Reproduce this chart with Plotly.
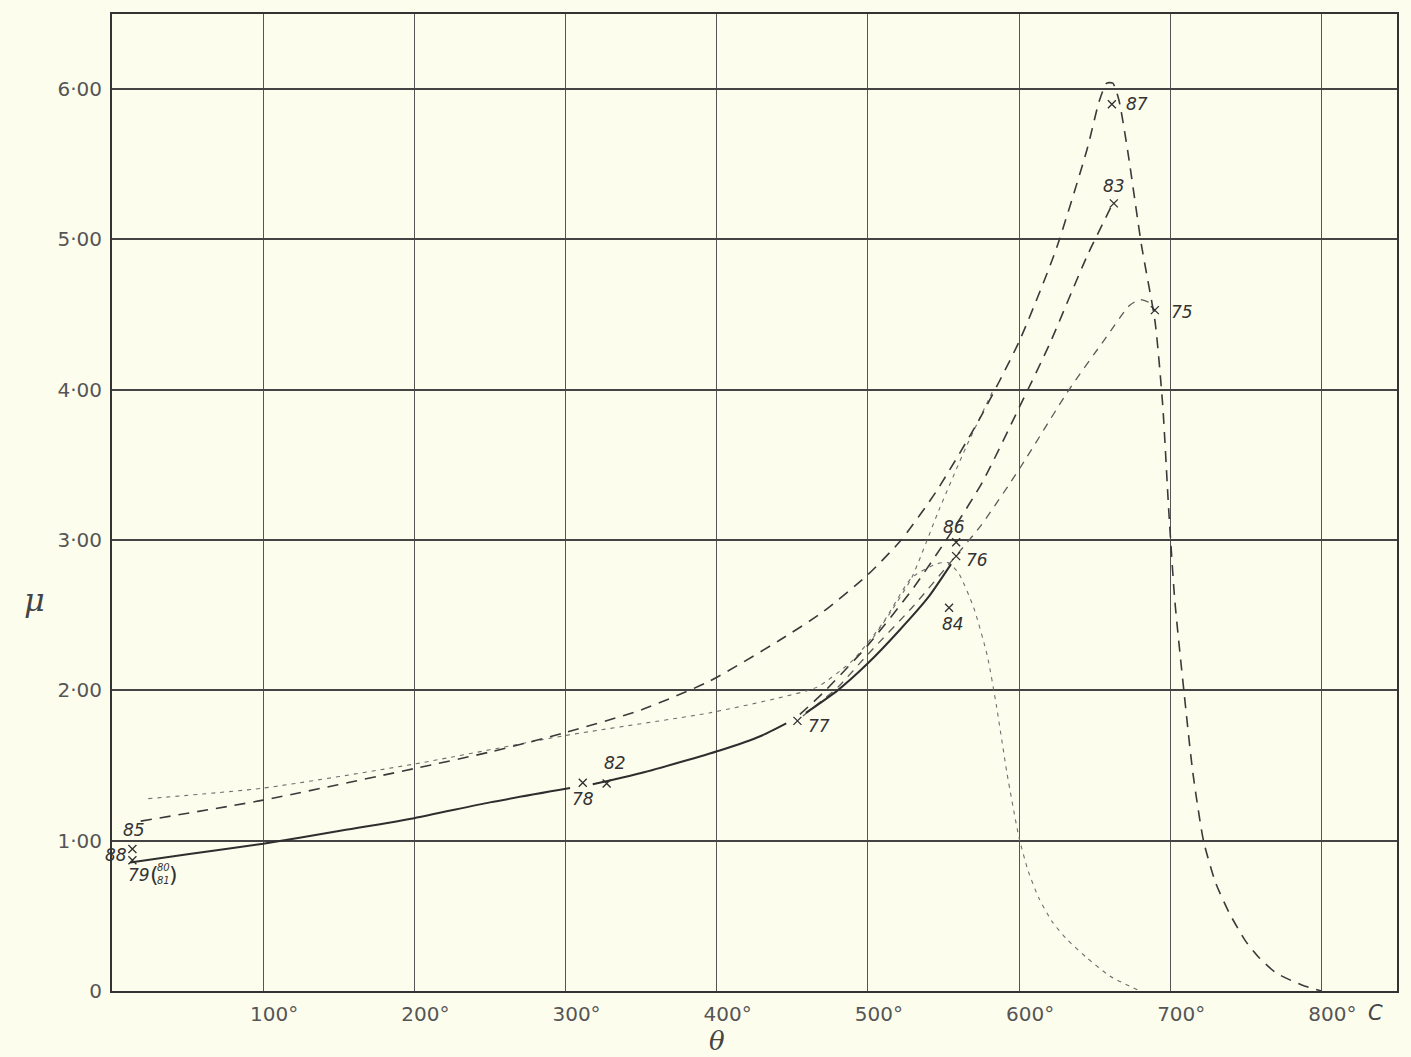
import plotly.graph_objects as go

# --- permeability (mu) against temperature (theta, deg C) ---

# full curve through 79, 78/82, 77, 76 (drawn in three pieces)
solid_a_x = [12, 50, 100, 150, 200, 250, 303]
solid_a_y = [0.855, 0.91, 0.98, 1.065, 1.15, 1.255, 1.35]
solid_b_x = [318, 350, 402, 430, 446]
solid_b_y = [1.375, 1.45, 1.60, 1.70, 1.78]
solid_c_x = [459, 480, 500, 520, 540, 555]
solid_c_y = [1.85, 2.0, 2.18, 2.39, 2.62, 2.84]

# long-dash curve from 85 up to the 87 peak and down to 800 deg
c87_x = [19, 100, 200, 250, 300, 350, 395, 441, 470, 500, 522, 545, 573, 600,
         624, 645, 653, 658, 662, 666, 672, 681, 690, 695, 699, 703, 709, 715,
         722, 730, 739, 750, 759, 770, 787, 800]
c87_y = [1.13, 1.27, 1.48, 1.59, 1.72, 1.87, 2.06, 2.33, 2.52, 2.77, 3.0, 3.32,
         3.79, 4.32, 4.92, 5.6, 5.92, 6.04, 6.04, 5.93, 5.58, 4.96, 4.45, 3.9,
         3.2, 2.6, 2.0, 1.45, 1.0, 0.72, 0.52, 0.33, 0.22, 0.12, 0.04, 0.0]

# long-dash curve rising to 83
c83_x = [455, 470, 500, 530, 557, 576, 600, 620, 645, 662]
c83_y = [1.84, 1.98, 2.3, 2.68, 3.08, 3.39, 3.88, 4.3, 4.89, 5.24]

# medium-dash curve rising to its maximum near 680 deg and meeting 75
c75_x = [457, 480, 500, 530, 557, 575, 600, 633, 657, 673, 680, 686, 690]
c75_y = [1.83, 2.02, 2.24, 2.56, 2.88, 3.1, 3.47, 4.0, 4.34, 4.56, 4.6, 4.58, 4.52]

# fine-dash curve through 84, falling to zero near 680 deg
c84_x = [24, 100, 200, 300, 395, 441, 466, 490, 510, 529, 545, 553, 560, 570,
         579, 585, 592, 600, 606, 613, 622, 632, 645, 660, 680]
c84_y = [1.28, 1.35, 1.51, 1.70, 1.85, 1.95, 2.02, 2.2, 2.45, 2.75, 2.84, 2.85,
         2.78, 2.55, 2.23, 1.9, 1.45, 1.02, 0.8, 0.62, 0.46, 0.34, 0.22, 0.1, 0.0]

# fine-dash branch climbing into the 87 curve
c86_x = [500, 515, 529, 547, 565, 583]
c86_y = [2.3, 2.52, 2.75, 3.2, 3.62, 4.0]

# observed points and their numbers
pt_x = [13.5, 13.5, 311.4, 327.2, 453.4, 558.4, 558.4, 553.7, 661.4, 662.7, 689.8]
pt_y = [0.945, 0.87, 1.386, 1.38, 1.797, 2.986, 2.893, 2.55, 5.90, 5.24, 4.53]

lab_text = ["85", "88", "79", "78", "82", "77", "86", "76", "84", "87", "83", "75"]
lab_pt = [0, 0, 1, 2, 3, 4, 5, 6, 7, 8, 9, 10]
lab_dx = [2, -16, 7, 0, 8, 22, -2, 21, 4, 25, 0, 27]
lab_dy = [19, -6, -15, -16, 21, -5, 15, -4, -16, 0, 17, -2]

x_ticks = [100, 200, 300, 400, 500, 600, 700, 800]
x_tick_text = ["100°", "200°", "300°", "400°", "500°", "600°", "700°", "800°"]
y_ticks = [0, 1, 2, 3, 4, 5, 6]
y_tick_text = ["0", "1·00", "2·00", "3·00", "4·00", "5·00", "6·00"]

INK = "#2e2e2e"
PAPER = "#fdfdee"

fig = go.Figure()


def curve(x, y, width, dash, color):
    fig.add_trace(go.Scatter(
        x=x, y=y, mode="lines",
        line=dict(color=color, width=width, dash=dash, shape="spline", smoothing=0.6),
        hoverinfo="skip", showlegend=False))


curve(c84_x, c84_y, 1.1, "4px,5px", "#6f6f6f")
curve(c86_x, c86_y, 1.1, "4px,5px", "#6f6f6f")
curve(c75_x, c75_y, 1.3, "8px,7px", "#5a5a5a")
curve(c83_x, c83_y, 1.6, "11px,8px", "#3a3a3a")
curve(c87_x, c87_y, 1.6, "11px,8px", "#3a3a3a")
curve(solid_a_x, solid_a_y, 2.0, "solid", INK)
curve(solid_b_x, solid_b_y, 2.0, "solid", INK)
curve(solid_c_x, solid_c_y, 2.0, "solid", INK)

fig.add_trace(go.Scatter(
    x=pt_x, y=pt_y, mode="markers",
    marker=dict(symbol="x-thin", size=8, line=dict(width=1.3, color=INK)),
    hoverinfo="skip", showlegend=False))

label_font = dict(family="DejaVu Sans", size=17, color="#333333", style="italic")
for t, i, dx, dy in zip(lab_text, lab_pt, lab_dx, lab_dy):
    fig.add_annotation(x=pt_x[i], y=pt_y[i], text=t, showarrow=False,
                       xshift=dx, yshift=dy, font=label_font)

# bracketed companions of point 79
fig.add_annotation(x=pt_x[1], y=pt_y[1], text="(", showarrow=False,
                   xshift=22, yshift=-14,
                   font=dict(family="DejaVu Sans", size=22, color="#333333"))
fig.add_annotation(x=pt_x[1], y=pt_y[1], text="80<br>81", showarrow=False,
                   xshift=31, yshift=-14,
                   font=dict(family="DejaVu Sans", size=10, color="#333333", style="italic"))
fig.add_annotation(x=pt_x[1], y=pt_y[1], text=")", showarrow=False,
                   xshift=41, yshift=-14,
                   font=dict(family="DejaVu Sans", size=22, color="#333333"))

# axis symbols
fig.add_annotation(xref="paper", yref="paper", x=-0.06, y=0.4, xanchor="center",
                   yanchor="middle", text="μ", showarrow=False,
                   font=dict(family="DejaVu Serif", size=32, color="#444444", style="italic"))
fig.add_annotation(xref="paper", yref="paper", x=0.471, y=-0.051, yanchor="middle",
                   text="θ", showarrow=False,
                   font=dict(family="DejaVu Serif", size=26, color="#444444", style="italic"))
fig.add_annotation(xref="x", yref="paper", x=800, y=0, yanchor="top", xanchor="left",
                   xshift=45, yshift=-8, text="C", showarrow=False,
                   font=dict(family="DejaVu Sans", size=21, color="#444444", style="italic"))

tick_font = dict(family="DejaVu Sans", size=20, color="#555555")

fig.update_xaxes(
    range=[0, 850], tickmode="array", tickvals=x_ticks, ticktext=x_tick_text,
    tickfont=tick_font, ticks="", ticklabelstandoff=4, ticklabelshift=11,
    showgrid=True, gridcolor="#555555", gridwidth=1.1,
    showline=True, linecolor="#333333", linewidth=2, mirror=True, zeroline=False)
fig.update_yaxes(
    range=[0, 6.5], tickmode="array", tickvals=y_ticks, ticktext=y_tick_text,
    tickfont=tick_font, ticks="", ticklabelstandoff=4,
    showgrid=True, gridcolor="#444444", gridwidth=1.6,
    showline=True, linecolor="#333333", linewidth=2, mirror=True, zeroline=False)

fig.update_layout(
    width=1411, height=1057,
    margin=dict(l=112, r=12, t=12, b=66),
    paper_bgcolor=PAPER, plot_bgcolor=PAPER,
    showlegend=False,
)

fig.write_html("out.html")
